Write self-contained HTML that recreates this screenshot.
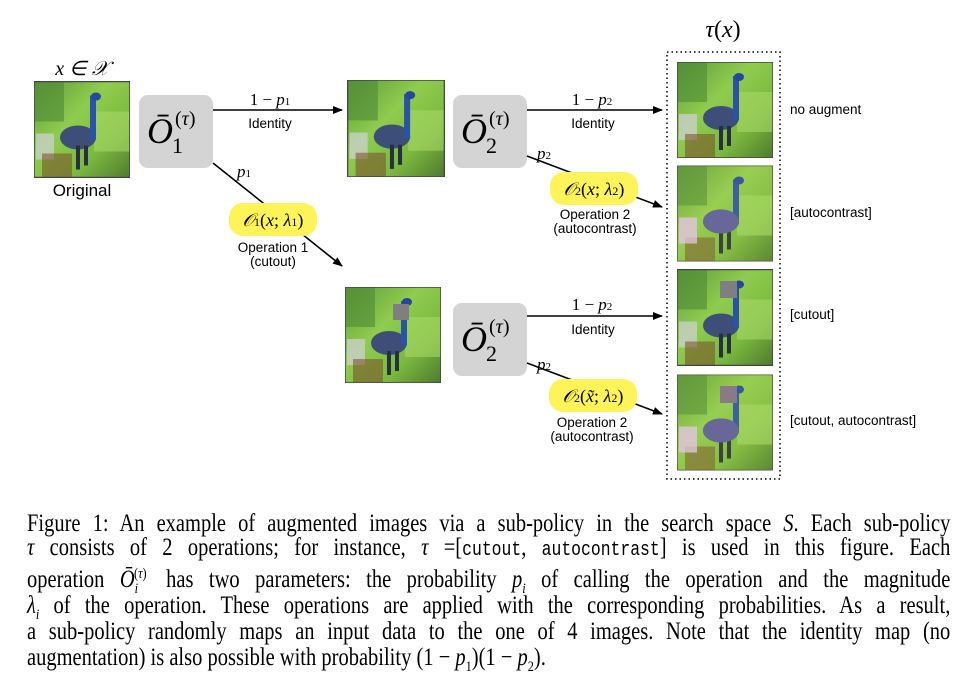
<!DOCTYPE html>
<html><head><meta charset="utf-8"><style>
body{margin:0;background:#fff;width:977px;height:694px;overflow:hidden;position:relative}
svg{position:absolute;left:0;top:0}
.cap{position:absolute;left:27px;width:1126px;transform:scaleX(0.82);transform-origin:0 0;font-family:"Liberation Serif",serif;font-size:25px;line-height:22px;height:22px;text-align:justify;text-align-last:justify;white-space:nowrap;color:#000}
.cap code{font-family:"Liberation Mono",monospace;font-size:20px}
.cap sub,.cap sup{font-size:15px;line-height:0}
</style></head><body>
<svg width="977" height="500" viewBox="0 0 977 500" font-family="Liberation Sans, DejaVu Sans, sans-serif">
<defs>
<linearGradient id="bg" x1="0" y1="0" x2="1" y2="1">
<stop offset="0" stop-color="#5f9a3a"/><stop offset="0.4" stop-color="#8fcc4e"/><stop offset="0.7" stop-color="#7ab93f"/><stop offset="1" stop-color="#4e7a2e"/></linearGradient>
<symbol id="bird" viewBox="0 0 96 96">
<rect width="96" height="96" fill="url(#bg)"/>
<rect x="0" y="0" width="30" height="40" fill="#4f8a35" opacity="0.6"/>
<rect x="60" y="30" width="36" height="40" fill="#a6d868" opacity="0.6"/>
<rect x="2" y="52" width="18" height="26" fill="#c8cfc8" opacity="0.8"/>
<rect x="8" y="72" width="30" height="24" fill="#7a4a2a" opacity="0.55"/>
<ellipse cx="44" cy="56" rx="18" ry="12" fill="#3d4f78"/>
<rect x="56" y="14" width="6" height="44" fill="#2a52a8"/>
<ellipse cx="62" cy="15" rx="5" ry="4" fill="#2448a0"/>
<rect x="42" y="64" width="4" height="24" fill="#263040"/>
<rect x="50" y="64" width="4" height="20" fill="#263040"/>
<rect width="96" height="96" fill="none" stroke="#444" stroke-width="1.5"/>
</symbol>
<symbol id="birdac" viewBox="0 0 96 96">
<use href="#bird" width="96" height="96"/>
<ellipse cx="44" cy="56" rx="18" ry="12" fill="#5a58a0"/>
<rect x="2" y="52" width="18" height="26" fill="#d8bed8" opacity="0.8"/>
<rect width="96" height="96" fill="#e0f070" opacity="0.1"/>
</symbol>
<marker id="ar" markerWidth="10" markerHeight="8" refX="9" refY="4" orient="auto" markerUnits="userSpaceOnUse"><path d="M0,0 L10,4 L0,8 z" fill="#000"/></marker>
</defs>
<use href="#bird" x="34" y="81" width="96" height="97"/>
<use href="#bird" x="347" y="80" width="98" height="97"/>
<use href="#bird" x="345" y="287" width="96" height="96"/>
<rect x="393" y="304" width="16" height="16" fill="#7f7f7f"/>
<use href="#bird" x="677" y="62" width="96" height="96"/>
<use href="#birdac" x="677" y="165" width="96" height="97"/>
<use href="#bird" x="677" y="269" width="96" height="97"/>
<rect x="720" y="281" width="17" height="17" fill="#7f7f7f"/>
<use href="#birdac" x="677" y="374" width="96" height="97"/>
<rect x="720" y="386" width="17" height="17" fill="#8a7a85"/>
<rect x="667" y="52" width="113" height="427" fill="none" stroke="#000" stroke-width="1.5" stroke-dasharray="1.5,3"/>
<text x="82" y="75" font-family="Liberation Serif,serif" font-style="italic" font-size="20" text-anchor="middle">x ∈ 𝒳</text>
<text x="82" y="196" font-size="17" text-anchor="middle">Original</text>
<text x="723" y="37" font-family="Liberation Serif,serif" font-size="24" text-anchor="middle"><tspan font-style="italic">τ</tspan>(<tspan font-style="italic">x</tspan>)</text>
<rect x="139" y="95" width="74" height="73" rx="9" fill="#d4d4d4"/>
<rect x="453" y="95" width="74" height="73" rx="9" fill="#d4d4d4"/>
<rect x="453" y="303" width="74" height="73" rx="9" fill="#d4d4d4"/>
<g font-family="Liberation Serif,serif">
<text x="147" y="143" font-size="36" font-style="italic">Ō</text><text x="175" y="125" font-size="20">(<tspan font-style="italic">τ</tspan>)</text><text x="172" y="153" font-size="22">1</text>
<text x="461" y="143" font-size="36" font-style="italic">Ō</text><text x="489" y="125" font-size="20">(<tspan font-style="italic">τ</tspan>)</text><text x="486" y="153" font-size="22">2</text>
<text x="461" y="351" font-size="36" font-style="italic">Ō</text><text x="489" y="333" font-size="20">(<tspan font-style="italic">τ</tspan>)</text><text x="486" y="361" font-size="22">2</text>
</g>
<g stroke="#000" stroke-width="1.6">
<line x1="213" y1="110" x2="342" y2="110" marker-end="url(#ar)"/>
<line x1="527" y1="110" x2="662" y2="110" marker-end="url(#ar)"/>
<line x1="527" y1="316" x2="662" y2="316" marker-end="url(#ar)"/>
<line x1="213" y1="163" x2="342" y2="266" marker-end="url(#ar)"/>
<line x1="527" y1="156" x2="662" y2="207" marker-end="url(#ar)"/>
<line x1="527" y1="363" x2="662" y2="414" marker-end="url(#ar)"/>
</g>
<rect x="229" y="203" width="88" height="33" rx="14" fill="#fff35a"/>
<rect x="550" y="172" width="88" height="33" rx="14" fill="#fff35a"/>
<rect x="549" y="379" width="88" height="33" rx="14" fill="#fff35a"/>
<g font-family="Liberation Serif,serif" font-size="18">
<text x="273" y="226" text-anchor="middle"><tspan font-style="italic">𝒪</tspan><tspan font-size="12">1</tspan>(<tspan font-style="italic">x</tspan>; <tspan font-style="italic">λ</tspan><tspan font-size="12">1</tspan>)</text>
<text x="594" y="195" text-anchor="middle"><tspan font-style="italic">𝒪</tspan><tspan font-size="12">2</tspan>(<tspan font-style="italic">x</tspan>; <tspan font-style="italic">λ</tspan><tspan font-size="12">2</tspan>)</text>
<text x="593" y="402" text-anchor="middle"><tspan font-style="italic">𝒪</tspan><tspan font-size="12">2</tspan>(<tspan font-style="italic">x̃</tspan>; <tspan font-style="italic">λ</tspan><tspan font-size="12">2</tspan>)</text>
<text x="270" y="105" text-anchor="middle" font-size="17">1 − <tspan font-style="italic">p</tspan><tspan font-size="11">1</tspan></text>
<text x="592" y="105" text-anchor="middle" font-size="17">1 − <tspan font-style="italic">p</tspan><tspan font-size="11">2</tspan></text>
<text x="592" y="310" text-anchor="middle" font-size="17">1 − <tspan font-style="italic">p</tspan><tspan font-size="11">2</tspan></text>
<text x="237" y="177" font-size="17" font-style="italic">p<tspan font-size="11" font-style="normal">1</tspan></text>
<text x="537" y="159" font-size="17" font-style="italic">p<tspan font-size="11" font-style="normal">2</tspan></text>
<text x="537" y="370" font-size="17" font-style="italic">p<tspan font-size="11" font-style="normal">2</tspan></text>
</g>
<g font-size="13.5" text-anchor="middle">
<text x="270" y="128">Identity</text>
<text x="593" y="128">Identity</text>
<text x="593" y="334">Identity</text>
<text x="273" y="252">Operation 1</text>
<text x="273" y="266">(cutout)</text>
<text x="595" y="219">Operation 2</text>
<text x="595" y="233">(autocontrast)</text>
<text x="592" y="427">Operation 2</text>
<text x="592" y="441">(autocontrast)</text>
</g>
<g font-size="13.5">
<text x="790" y="114">no augment</text>
<text x="790" y="217">[autocontrast]</text>
<text x="790" y="319">[cutout]</text>
<text x="790" y="425">[cutout, autocontrast]</text>
</g>
</svg>
<div class="cap" style="top:513px">Figure 1: An example of augmented images via a sub-policy in the search space <i>S</i>. Each sub-policy</div>
<div class="cap" style="top:537px"><i>τ</i> consists of 2 operations; for instance, <i>τ</i> =[<code>cutout</code>, <code>autocontrast</code>] is used in this figure. Each</div>
<div class="cap" style="top:569px">operation <i>Ō</i><sub><i>i</i></sub><sup style="position:relative;left:-5px">(<i>τ</i>)</sup> has two parameters: the probability <i>p<sub>i</sub></i> of calling the operation and the magnitude</div>
<div class="cap" style="top:595px"><i>λ<sub>i</sub></i> of the operation. These operations are applied with the corresponding probabilities. As a result,</div>
<div class="cap" style="top:621px">a sub-policy randomly maps an input data to the one of 4 images. Note that the identity map (no</div>
<div class="cap" style="top:647px;text-align-last:left">augmentation) is also possible with probability (1 − <i>p</i><sub>1</sub>)(1 − <i>p</i><sub>2</sub>).</div>
</body></html>
